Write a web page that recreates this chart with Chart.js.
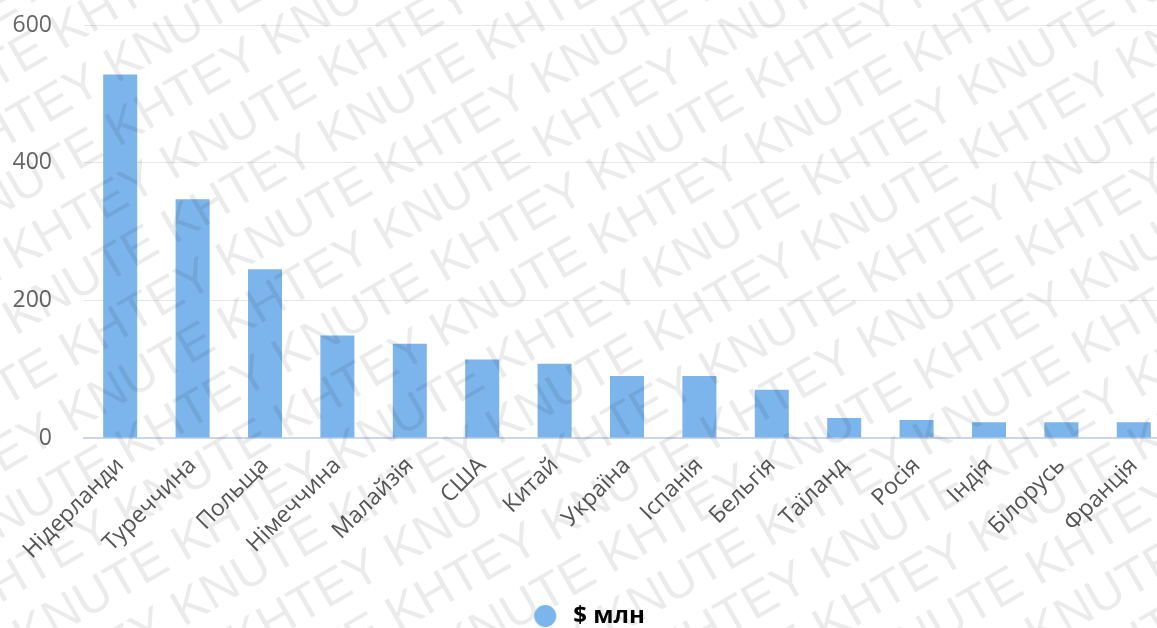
<!DOCTYPE html>
<html>
<head>
<meta charset="utf-8">
<script src="https://cdn.jsdelivr.net/npm/chart.js@4"></script>
<style>
  html, body { margin: 0; padding: 0; background: #fff; overflow: hidden; }
  #wrap { width: 1172px; height: 628px; position: relative; }
</style>
</head>
<body>
<div id="wrap"><canvas id="export-chart"></canvas></div>
<script>
const countries = ["Нідерланди", "Туреччина", "Польща", "Німеччина", "Малайзія", "США", "Китай",
  "Україна", "Іспанія", "Бельгія", "Таїланд", "Росія", "Індія", "Білорусь", "Франція"];
const values = [528, 347, 245, 149, 137, 114, 108, 90, 90, 70, 29, 26, 23, 23, 23];
const yTicks = [0, 200, 400, 600];
const seriesName = "$ млн";
const barColor = "#7cb5ec";

// legend marker: circle on the left of a wider image so the text sits further away
const marker = document.createElement("canvas");
marker.width = 36;
marker.height = 24;
const mctx = marker.getContext("2d");
mctx.fillStyle = barColor;
mctx.beginPath();
mctx.arc(14, 12, 11, 0, Math.PI * 2);
mctx.fill();

// watermark over everything, like the original picture
const watermark = {
  id: "watermark",
  afterDraw(chart) {
    const ctx = chart.ctx;
    ctx.save();
    ctx.fillStyle = "rgba(0,0,0,0.08)";
    ctx.font = "50px 'Liberation Sans', sans-serif";
    ctx.translate(chart.width / 2, chart.height / 2);
    ctx.rotate(-30 * Math.PI / 180);
    const line = "KHTEY KNUTE KHTEY KNUTE KHTEY KNUTE KHTEY KNUTE KHTEY KNUTE KHTEY KNUTE";
    for (let i = -10; i <= 10; i++) {
      const shift = ((i % 2) + 2) % 2 * 150;
      ctx.fillText(line, -1200 + shift, i * 56);
    }
    ctx.restore();
  }
};

const ctx = document.getElementById("export-chart").getContext("2d");
const chart = new Chart(ctx, {
  type: "bar",
  data: {
    labels: countries,
    datasets: [{
      label: seriesName,
      data: values,
      backgroundColor: barColor,
      borderWidth: 0,
      barPercentage: 0.47,
      categoryPercentage: 1
    }]
  },
  options: {
    responsive: true,
    maintainAspectRatio: false,
    animation: false,
    layout: { autoPadding: false, padding: { top: 25, left: 12, right: 2, bottom: -10 } },
    plugins: {
      tooltip: { enabled: false },
      legend: {
        position: "bottom",
        labels: {
          usePointStyle: true,
          generateLabels: (c) => [{
            text: seriesName,
            pointStyle: marker,
            fillStyle: barColor,
            strokeStyle: barColor,
            lineWidth: 0,
            hidden: false,
            datasetIndex: 0
          }],
          color: "#333",
          font: { family: "'Open Sans', sans-serif", size: 24, weight: "bold" },
          padding: 2
        }
      }
    },
    scales: {
      y: {
        min: 0,
        max: 600,
        afterBuildTicks: (s) => { s.ticks = yTicks.map(v => ({ value: v })); },
        afterFit: (s) => { s.width = 72; s.paddingTop = 0; s.paddingBottom = 0; },
        border: { display: false },
        grid: { color: "#e6e6e6", drawTicks: false },
        ticks: {
          padding: 32,
          color: "#666",
          font: { family: "'Open Sans', sans-serif", size: 23 }
        }
      },
      x: {
        border: { display: true, color: "#ccd6eb", width: 2 },
        grid: { display: false },
        afterFit: (s) => { s.height = 164; s.paddingLeft = 0; s.paddingRight = 0; },
        ticks: {
          minRotation: 45,
          maxRotation: 45,
          autoSkip: false,
          padding: 6,
          color: "#555",
          font: { family: "'Open Sans', sans-serif", size: 23 }
        }
      }
    }
  },
  plugins: [watermark]
});
</script>
</body>
</html>
